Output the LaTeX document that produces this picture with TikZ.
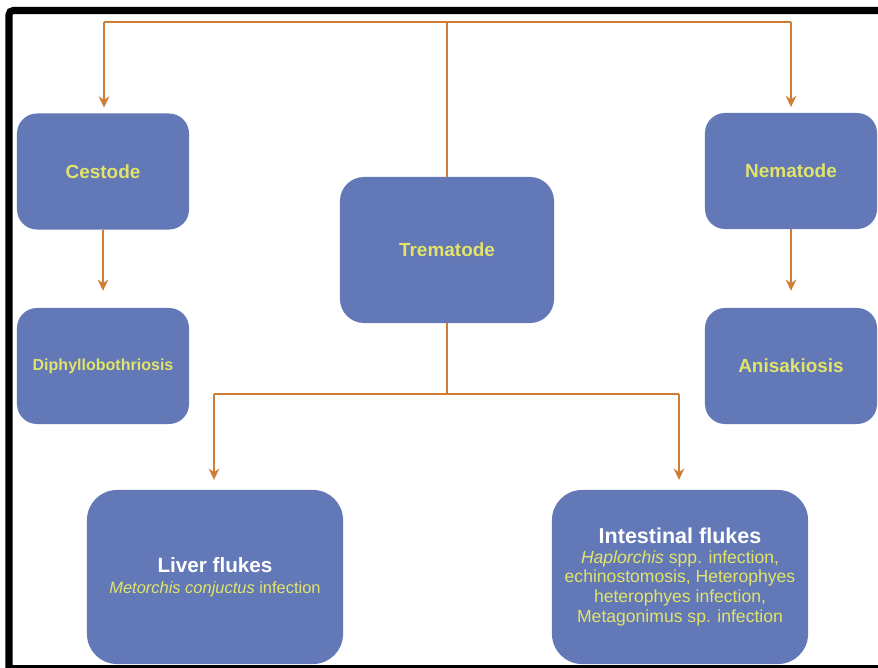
\documentclass[tikz,border=0pt]{standalone}
\usepackage{fontspec}
\setmainfont{Liberation Sans}
\usetikzlibrary{arrows.meta}

\definecolor{boxblue}{RGB}{99,120,182}
\definecolor{labelyellow}{RGB}{226,228,106}
\definecolor{flowbrown}{RGB}{205,125,52}

\tikzset{
	box/.style={rectangle, rounded corners=0.5cm, fill=boxblue, align=center, inner sep=2pt},
	header/.style={box, minimum width=4.3cm, minimum height=2.9cm, text=labelyellow, font=\bfseries\fontsize{13.5}{16}\selectfont},
	flukebox/.style={box, rounded corners=0.75cm, minimum width=6.4cm, minimum height=4.35cm, text=labelyellow, font=\fontsize{12.5}{14}\selectfont},
	flow/.style={draw=flowbrown, line width=1.8pt},
	arr/.style={flow, -{Stealth[length=8pt,width=7.5pt]}},
}

\begin{document}
\begin{tikzpicture}[x=0.025cm, y=-0.025cm]

		\useasboundingbox (0,0) rectangle (878,668);

		\node[header] (cestode) at (103,171.5) {Cestode};
		\node[header, font=\bfseries\fontsize{11.4}{13}\selectfont] (diphyllo) at (103,366) {Diphyllobothriosis};
		\node[header, minimum width=5.35cm, minimum height=3.65cm, rounded corners=0.6cm] (trematode) at (447,250) {Trematode};
		\node[header] (nematode) at (791,171) {Nematode};
		\node[header] (anisakiosis) at (791,366) {Anisakiosis};

		\node[flukebox] (liver) at (215,577) {{\color{white}\bfseries\fontsize{14.7}{17}\selectfont Liver flukes}\\[1pt]
			{\fontsize{11.7}{14}\selectfont\textit{Metorchis conjuctus} infection}};
		\node[flukebox] (intestinal) at (680,577) {{\color{white}\bfseries\fontsize{15.3}{18}\selectfont Intestinal flukes}\\
			\textit{Haplorchis} spp. infection,\\ echinostomosis, Heterophyes\\ heterophyes infection,\\ Metagonimus sp. infection};

		\coordinate (topL) at (104,22);
		\coordinate (topR) at (791,22);
		\coordinate (midL) at (214,394);
		\coordinate (midR) at (679,394);

		\draw[flow] (trematode.north) -- (trematode.north |- topL);
		\draw[flow] (topL) -- (topR);
		\draw[arr, shorten >=4pt] (topL) -- (topL |- cestode.north);
		\draw[arr, shorten >=4pt] (topR) -- (nematode.north);
		\draw[arr, shorten >=12pt] (cestode.south) -- (diphyllo.north);
		\draw[arr, shorten >=12pt] (nematode.south) -- (anisakiosis.north);

		\draw[flow] (trematode.south) -- (trematode.south |- midL);
		\draw[flow] (midL) -- (midR);
		\draw[arr, shorten >=7pt] (midL) -- (midL |- liver.north);
		\draw[arr, shorten >=7pt] (midR) -- (midR |- intestinal.north);

		% frame
		\draw[line width=5pt, rounded corners=3pt] (878,10.5) -- (9,10.5) -- (9,668);
		\draw[line width=1.5pt] (9,666.5) -- (878,666.5);

	\end{tikzpicture}
\end{document}
